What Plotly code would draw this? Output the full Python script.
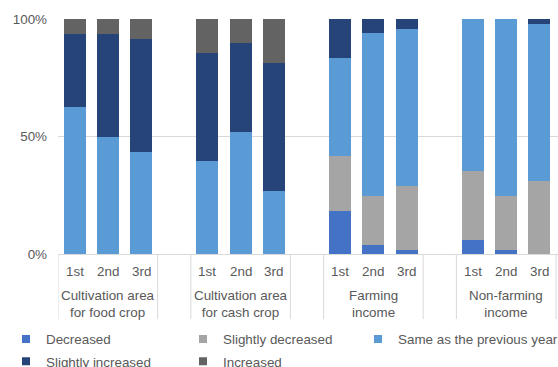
import plotly.graph_objects as go

# ---- data ----
groups = ["Cultivation area<br>for food crop", "Cultivation area<br>for cash crop",
          "Farming<br>income", "Non-farming<br>income"]
rounds = ["1st", "2nd", "3rd"]
tick_vals = [0, 0.5, 1]
tick_text = ["0%", "50%", "100%"]

series_names = ["Decreased", "Slightly decreased", "Same as the previous year",
                "Slightly increased", "Increased"]
series_colors = ["#4472C4", "#A5A5A5", "#5B9BD5", "#264478", "#636363"]

# percentages per bar: food crop 1st-3rd, cash crop 1st-3rd, farming 1st-3rd, non-farming 1st-3rd
decreased = [0, 0, 0, 0, 0, 0, 18.5, 3.7, 1.7, 5.9, 1.7, 0]
slightly_decreased = [0, 0, 0, 0, 0, 0, 23.0, 21.1, 27.3, 29.4, 23.1, 31.0]
same = [62.5, 50.0, 43.6, 39.4, 52.0, 26.9, 41.9, 69.1, 66.9, 64.7, 75.2, 67.0]
slightly_increased = [31.3, 43.8, 48.0, 46.0, 37.7, 54.3, 16.6, 6.1, 4.1, 0, 0, 2.0]
increased = [6.2, 6.2, 8.4, 14.6, 10.3, 18.8, 0, 0, 0, 0, 0, 0]

series_values = [decreased, slightly_decreased, same, slightly_increased, increased]

# ---- layout helpers ----
SLOTS_PER_GROUP = len(rounds) + 1  # one blank category after each group
x_slots = [g * SLOTS_PER_GROUP + s for g in range(len(groups)) for s in range(len(rounds))]
sub_labels = [r for g in range(len(groups)) for r in rounds]

FONT = "Liberation Sans, Arial, sans-serif"
FS = 13.4
TXT = "#595959"
GRID = "#D9D9D9"

fig = go.Figure()

for name, color, vals in zip(series_names, series_colors, series_values):
    fig.add_trace(go.Bar(
        x=x_slots, y=[v / 100 for v in vals], name=name,
        marker=dict(color=color, line=dict(width=0)),
        width=0.66, showlegend=False,
        hovertemplate="%{y:.1%}<extra>" + name + "</extra>",
    ))

# legend entries (small squares), one legend box per entry: 3 columns x 2 rows
legend_ids = ["legend", "legend2", "legend3", "legend4", "legend5"]
for i, (name, color) in enumerate(zip(series_names, series_colors)):
    fig.add_trace(go.Scatter(
        x=[None], y=[None], mode="markers", name=name,
        marker=dict(symbol="square", size=8, color=color),
        legend=legend_ids[i],
    ))

shapes = []
for g in range(len(groups)):
    for bx in (g * SLOTS_PER_GROUP - 0.5, g * SLOTS_PER_GROUP + len(rounds) - 0.5):
        shapes.append(dict(type="line", xref="x", yref="paper", x0=bx, x1=bx,
                           y0=0, y1=-0.277, line=dict(color=GRID, width=1)))

annotations = []
for xs, lab in zip(x_slots, sub_labels):
    annotations.append(dict(x=xs, y=-0.075, xref="x", yref="paper", text=lab,
                            showarrow=False, yanchor="middle",
                            font=dict(family=FONT, size=FS, color=TXT)))
for g, gname in enumerate(groups):
    annotations.append(dict(x=g * SLOTS_PER_GROUP + (len(rounds) - 1) / 2, y=-0.2115,
                            xref="x", yref="paper", text=gname, showarrow=False,
                            yanchor="middle",
                            font=dict(family=FONT, size=FS, color=TXT)))

legend_common = dict(orientation="h", xanchor="left", yanchor="middle",
                     font=dict(family=FONT, size=FS, color=TXT),
                     bgcolor="rgba(0,0,0,0)")
col_x = [(6 - 58) / 500, (183 - 58) / 500, (358 - 58) / 500]
row_y = [-0.363, -0.458]
legend_layouts = {}
for i, lid in enumerate(legend_ids):
    legend_layouts[lid] = dict(x=col_x[i % 3], y=row_y[i // 3], **legend_common)

fig.update_layout(
    width=558, height=367,
    margin=dict(l=58, r=0, t=19, b=113, autoexpand=False),
    paper_bgcolor="white", plot_bgcolor="white",
    barmode="stack", bargap=0,
    font=dict(family=FONT, size=FS, color=TXT),
    xaxis=dict(range=[-0.5, -0.5 + 500 / 33.2], showticklabels=False,
               showgrid=False, zeroline=False, showline=False, ticks=""),
    yaxis=dict(range=[0, 1], tickvals=tick_vals, ticktext=tick_text,
               showgrid=True, gridcolor=GRID, gridwidth=1,
               zeroline=True, zerolinecolor=GRID, zerolinewidth=1,
               showline=False, ticks="", ticklabelstandoff=10,
               tickfont=dict(family=FONT, size=FS, color=TXT)),
    shapes=shapes, annotations=annotations,
    showlegend=True,
    **legend_layouts,
)

fig.write_html("out.html")
